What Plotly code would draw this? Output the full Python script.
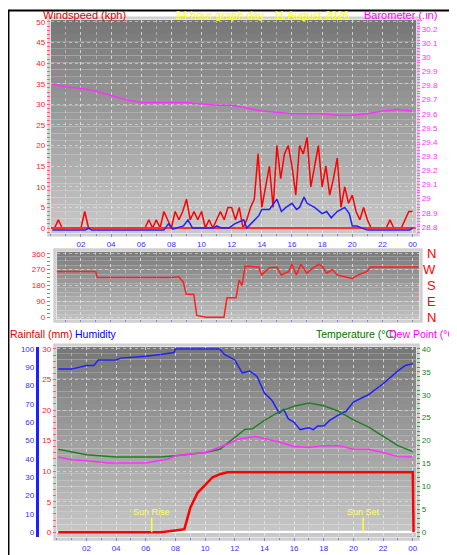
import plotly.graph_objects as go

# ---------------- data ----------------
gust_t = [i * 0.25 for i in range(97)]
gust = [0,0,2,0, 0,0,0,0, 0,4,0,0, 0,0,0,0, 0,0,0,0, 0,0,0,0,
        0,0,2,0, 2,0,4,2, 0,4,2,4, 7,2,4,2, 4,0,2,0, 2,4,2,5,
        5,2,5,0, 2,5,7,18, 5,10,15,5, 20,12,18,20, 15,8,20,18, 22,10,15,20,
        10,15,8,12, 17,5,10,6, 8,4,2,5, 2,0,0,0, 0,0,2,0, 0,0,2,4, 4]
avg_t = [0.1, 2.3, 2.5, 2.7, 7.5, 7.8, 8.1, 8.8, 9.1, 9.4, 10.8, 11.0, 11.3, 11.8, 12.2, 12.5, 12.8, 13.0,
         13.5, 13.8, 14.0, 14.5, 15.0, 15.3, 15.6, 16.0, 16.3, 16.5, 16.8, 17.0, 17.5, 18.0, 18.3,
         18.6, 19.0, 19.5, 19.8, 20.0, 20.3, 20.6, 21.0, 23.8, 24.0]
avg = [-0.5, -0.5, 0, -0.5, -0.5, 1, -0.3, 0.5, 2, 0, 0, 0.5, 0, 0, 1, 1.5, 2, 0,
       2, 3, 4.5, 4.5, 7, 4, 5, 6, 4.5, 5, 7.5, 6, 5, 3.5, 4,
       2.5, 4, 5, 3.5, 0.5, 0.5, 0, -0.5, -0.5, 0]
baro_t = [0.1, 1, 2, 3, 4, 5, 6, 7, 8, 9, 10, 11, 12, 13, 14, 15, 16, 17, 18, 19, 20, 21, 22, 23, 24]
baro = [29.81, 29.79, 29.78, 29.76, 29.73, 29.70, 29.68, 29.68, 29.68, 29.68, 29.67, 29.66, 29.66,
        29.64, 29.62, 29.61, 29.60, 29.60, 29.60, 29.59, 29.59, 29.60, 29.62, 29.63, 29.62]

dir_t = [0.1, 3.0, 3.1, 8.0, 8.5, 8.8, 9.0, 9.5, 9.7, 10.0, 10.3, 11.5, 11.7, 12.3, 12.5, 12.7, 12.9,
         13.8, 14.0, 14.5, 15.0, 15.3, 15.8, 16.0, 16.3, 16.6, 17.0, 17.4, 17.8, 18.0, 18.3, 18.7,
         19.0, 19.5, 20.0, 20.4, 21.0, 21.2, 24.4]
wdir = [260, 260, 225, 225, 230, 200, 130, 130, 10, 5, 0, 0, 110, 110, 210, 180, 290,
        285, 240, 280, 285, 240, 260, 300, 240, 300, 250, 280, 300, 290, 250, 270,
        240, 230, 220, 240, 260, 285, 285]

hum_t = [0.1, 1, 2, 2.5, 2.8, 4, 4.3, 6, 7, 7.9, 8.0, 11, 11.3, 12, 12.5, 13, 13.5, 14, 14.5, 15,
         15.3, 15.6, 16, 16.4, 17, 17.3, 17.6, 18, 18.4, 19, 19.5, 20, 21, 22, 23, 23.5, 24]
hum = [89, 89, 91, 91, 94, 94, 95, 96, 97, 98, 100, 100, 97, 94, 87, 88, 85, 76, 72, 65,
       67, 62, 60, 56, 57, 56, 58, 58, 61, 64, 66, 71, 75, 81, 88, 91, 92]
temp_t = [0.1, 2, 4, 7, 8, 10, 11, 11.5, 12.3, 12.7, 13.2, 14, 15, 16, 17, 18, 19, 20, 21, 22, 23, 24]
temp = [18.1, 16.9, 16.4, 16.4, 16.7, 17.4, 18.1, 19.4, 21.4, 22.5, 22.6, 24.4, 26.3, 27.5, 28.2,
        27.6, 26.4, 24.5, 23.0, 21.0, 18.9, 17.6]
dew_t = [0.1, 1, 2, 3.5, 6, 7.5, 8, 10, 11.5, 12.2, 13.4, 14, 15, 16, 17, 18, 19, 20, 21, 22, 23, 24]
dew = [16.4, 15.8, 15.6, 15.1, 15.1, 16.0, 16.7, 17.4, 19.2, 20.3, 20.9, 20.5, 19.7, 18.7, 18.5,
       18.9, 18.9, 18.1, 18.1, 17.4, 16.5, 16.4]
rain_t = [0.1, 7, 8, 8.6, 9, 9.5, 10, 10.5, 11, 11.5, 12, 24, 24.05]
rain = [0, 0, 0.3, 0.5, 4, 6.5, 7.7, 9, 9.5, 9.8, 9.8, 9.8, 0]
sun_events = {"Sun Rise": 6.4, "Sun Set": 20.65}

hour_ticks = list(range(2, 25, 2))
hour_labels = ["02", "04", "06", "08", "10", "12", "14", "16", "18", "20", "22", "00"]
compass = [(360, "N"), (270, "W"), (180, "S"), (90, "E"), (0, "N")]

W, H = 457, 555
def px(x): return x / W
def py(y): return 1 - y / H

FONT = "Liberation Sans"
fig = go.Figure()

fig.add_trace(go.Scatter(x=gust_t, y=gust, mode="lines", line=dict(color="#ff0000", width=1.5),
                         xaxis="x", yaxis="y"))
fig.add_trace(go.Scatter(x=[0, 24.2], y=[0, 0], mode="lines", line=dict(color="#ff3030", width=2),
                         xaxis="x", yaxis="y"))
fig.add_trace(go.Scatter(x=avg_t, y=avg, mode="lines", line=dict(color="#2020ff", width=1.5),
                         xaxis="x", yaxis="y"))
fig.add_trace(go.Scatter(x=baro_t, y=baro, mode="lines", line=dict(color="#ff30ff", width=1.5),
                         xaxis="x", yaxis="y2"))
fig.add_trace(go.Scatter(x=dir_t, y=wdir, mode="lines", line=dict(color="#ff2020", width=1.5),
                         xaxis="x2", yaxis="y3"))
fig.add_trace(go.Scatter(x=hum_t, y=hum, mode="lines", line=dict(color="#2020ff", width=1.5),
                         xaxis="x3", yaxis="y4"))
fig.add_trace(go.Scatter(x=temp_t, y=temp, mode="lines", line=dict(color="#208020", width=1.5),
                         xaxis="x3", yaxis="y6"))
fig.add_trace(go.Scatter(x=dew_t, y=dew, mode="lines", line=dict(color="#ff30ff", width=1.5),
                         xaxis="x3", yaxis="y6"))
fig.add_trace(go.Scatter(x=rain_t, y=rain, mode="lines", line=dict(color="#ff0000", width=2.5),
                         xaxis="x3", yaxis="y5"))
for name, t in sun_events.items():
    fig.add_trace(go.Scatter(x=[t, t], y=[0, 2.4], mode="lines", line=dict(color="#ffff40", width=1.5),
                             xaxis="x3", yaxis="y5"))
    fig.add_annotation(x=t, y=3.3, xref="x3", yref="y5", text=name, showarrow=False,
                       font=dict(color="#ffff60", size=9, family=FONT))

grid = dict(showgrid=True, gridcolor="rgba(235,235,235,0.55)", griddash="dot", gridwidth=1, zeroline=False)
tickf = lambda c: dict(size=8, color=c, family=FONT)

xcommon = dict(tickvals=hour_ticks, ticktext=hour_labels, ticks="outside", ticklen=3, tickcolor="#8080ff",
               minor=dict(dtick=1, ticks="outside", ticklen=2, tickcolor="#8080ff", showgrid=True,
                          gridcolor="rgba(235,235,235,0.45)", griddash="dot"),
               **grid)
layout = dict(
    width=W, height=H, margin=dict(l=0, r=0, t=0, b=0), paper_bgcolor="white",
    plot_bgcolor="rgba(0,0,0,0)", showlegend=False, font=dict(family=FONT),
    xaxis=dict(domain=[px(43), px(410)], range=[0, 24.24], anchor="y",
               tickfont=tickf("#3030ff"), **xcommon),
    xaxis2=dict(domain=[px(49), px(413)], range=[0.42, 24.44], anchor="y3", showticklabels=False,
                **{k: v for k, v in xcommon.items() if k not in ("ticks",)}, ticks=""),
    xaxis3=dict(domain=[px(49), px(410)], range=[0, 24.23], anchor="y5",
                tickfont=tickf("#3030ff"), **xcommon),
    yaxis=dict(domain=[py(225), py(10)], range=[-1.2, 50.5], dtick=5, tickfont=tickf("#ff2020"),
               ticks="outside", ticklen=3, tickcolor="#ff6060",
               minor=dict(dtick=1, ticks="outside", ticklen=3, tickcolor="#ff6060"), **grid),
    yaxis2=dict(range=[28.757, 30.264], dtick=0.1, overlaying="y", side="right", anchor="x",
                tickfont=tickf("#ff30ff"), ticks="outside", ticklen=3, tickcolor="#ff60ff",
                minor=dict(dtick=0.02, ticks="outside", ticklen=3, tickcolor="#ff60ff"), showgrid=False),
    yaxis3=dict(domain=[py(312), py(244)], range=[-11, 371], tickvals=[0, 90, 180, 270, 360],
                tickfont=tickf("#ff2020"), ticks="outside", ticklen=3, tickcolor="#ff6060",
                minor=dict(dtick=22.5, ticks="outside", ticklen=3, tickcolor="#ff6060"), **grid),
    yaxis4=dict(domain=[py(532), py(340)], range=[-2.7, 101.1], dtick=10, anchor="free",
                position=px(29), side="left", showline=True, linecolor="#2020ff", linewidth=3,
                tickfont=tickf("#3030ff"), ticks="", showgrid=False, zeroline=False),
    yaxis5=dict(range=[-0.81, 30.32], dtick=5, overlaying="y4", anchor="x3", side="left",
                tickfont=tickf("#ff2020"), ticks="outside", ticklen=3, tickcolor="#ff6060",
                minor=dict(dtick=1, ticks="outside", ticklen=3, tickcolor="#ff6060"), **grid),
    yaxis6=dict(range=[-1.08, 40.43], dtick=5, overlaying="y4", anchor="x3", side="right",
                tickfont=tickf("#208020"), ticks="outside", ticklen=3, tickcolor="#40a040",
                minor=dict(dtick=1, ticks="outside", ticklen=3, tickcolor="#40a040"), showgrid=False),
)
fig.update_layout(**layout)

shapes = []
def gradient(x0, x1, y0, y1, c_top, c_bot, n=30):
    for i in range(n):
        f = i / (n - 1)
        c = [int(c_top[k] + (c_bot[k] - c_top[k]) * f) for k in range(3)]
        ya = y0 + (y1 - y0) * i / n
        yb = y0 + (y1 - y0) * (i + 1) / n
        shapes.append(dict(type="rect", xref="paper", yref="paper", x0=px(x0), x1=px(x1),
                           y0=py(ya), y1=py(yb), fillcolor="rgb(%d,%d,%d)" % tuple(c),
                           line=dict(width=0), layer="below"))
    shapes.append(dict(type="rect", xref="paper", yref="paper", x0=px(x0 - 2), x1=px(x1 + 2),
                       y0=py(y0 - 2), y1=py(y1 + 2), line=dict(color="#d0d0d0", width=3),
                       layer="below"))
gradient(43, 410, 10, 225, (120, 120, 120), (200, 200, 200))
gradient(49, 413, 244, 312, (125, 125, 125), (190, 190, 190), n=15)
gradient(49, 410, 340, 532, (120, 120, 120), (200, 200, 200))
shapes.append(dict(type="rect", xref="paper", yref="paper", x0=0.001, x1=0.999, y0=0.001, y1=0.999,
                   line=dict(color="black", width=2)))
fig.update_layout(shapes=shapes)

def label(x, y, text, color, size=11, xanchor="left"):
    fig.add_annotation(x=px(x), y=py(y), xref="paper", yref="paper", text=text, showarrow=False,
                       xanchor=xanchor, yanchor="middle", xshift=0,
                       font=dict(color=color, size=size, family=FONT))
label(33, 5, "Windspeed (kph)", "#e00000")
label(255, 5, "24 hour graph day : 11 August 2026", "#ffff00", xanchor="center")
label(433, 5, "Barometer (.in)", "#ff00ff", xanchor="right")
label(0, 327, "Rainfall (mm)", "#e00000", size=10.5)
label(65, 327, "Humidity", "#0000ff", size=10.5)
label(307, 327, "Temperature (°C)", "#007000", size=10.5)
label(455, 327, "Dew Point (°C)", "#ff00ff", size=10.5, xanchor="right")
for v, t in compass:
    fig.add_annotation(x=px(432), y=v, xref="paper", yref="y3", text=t, showarrow=False,
                       font=dict(color="#ff0000", size=13, family=FONT))

fig.write_html("out.html")
